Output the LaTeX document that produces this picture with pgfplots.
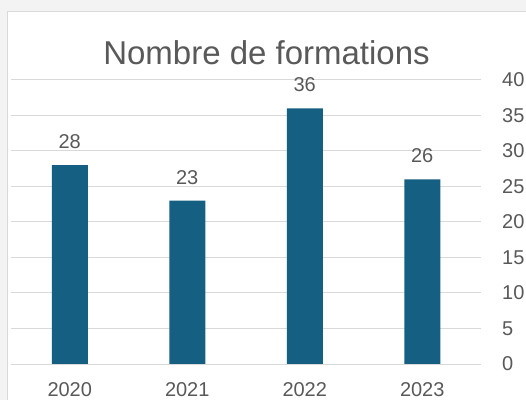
\documentclass[border=0pt]{standalone}
\usepackage{fontspec}
\setmainfont{Liberation Sans}
\usepackage{pgfplots}
\pgfplotsset{compat=1.18}
\definecolor{barblue}{HTML}{156082}
\definecolor{textgray}{HTML}{595959}
\definecolor{gridgray}{HTML}{D9D9D9}
\definecolor{outerbg}{HTML}{F3F3F3}
\begin{document}
\begin{tikzpicture}
\useasboundingbox (0,0) rectangle (526bp,400bp);
\fill[outerbg] (0,0) rectangle (526bp,400bp);
\fill[white] (7bp,0) rectangle (526bp,388bp);
\draw[gridgray, line width=1bp] (7bp,0) -- (7bp,388bp) -- (526bp,388bp);
\node[anchor=base, text=textgray, font=\fontsize{33bp}{38bp}\selectfont] at (266.5bp,335bp) {Nombre de formations};
\begin{axis}[
  at={(11bp,36bp)}, anchor=south west,
  scale only axis, width=470bp, height=284bp,
  xmin=-0.5, xmax=3.5, ymin=0, ymax=40,
  xtick={0,1,2,3}, xticklabels={2020,2021,2022,2023},
  ytick={0,5,...,40},
  yticklabel pos=right,
  axis line style={draw=none},
  major tick length=0pt,
  ymajorgrids=true,
  grid style={gridgray, line width=1bp},
  ticklabel style={text=textgray, font=\fontsize{20bp}{24bp}\selectfont},
  /pgf/number format/assume math mode=true,
  xticklabel style={anchor=base, yshift=-32bp},
  yticklabel style={anchor=west, inner sep=0pt, xshift=21bp},
  ybar, bar width=36bp,
  nodes near coords,
  every node near coord/.append style={anchor=base, yshift=16.5bp, text=textgray, font=\fontsize{20bp}{24bp}\selectfont},
]
\addplot[fill=barblue, draw=none] coordinates {(0,28) (1,23) (2,36) (3,26)};
\end{axis}
\end{tikzpicture}
\end{document}
